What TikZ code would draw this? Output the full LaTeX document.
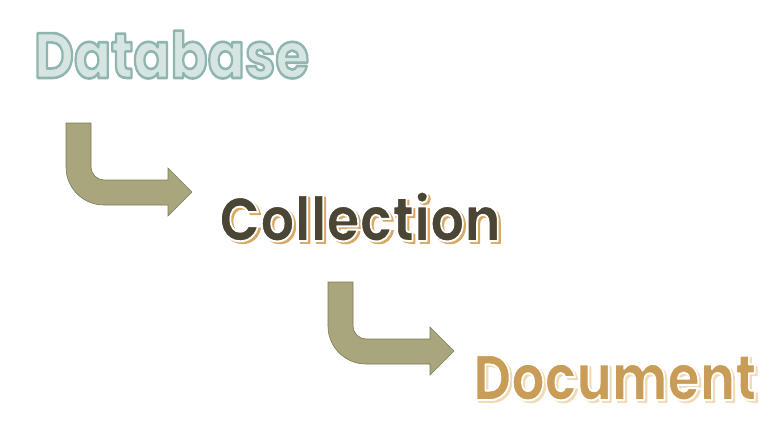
\documentclass[tikz,border=0pt]{standalone}
\usepackage{fontspec}
\newfontfamily\wordfont{Poppins}
\usetikzlibrary{calc}
\definecolor{arrowfill}{HTML}{A9A67E}
\definecolor{arrowline}{HTML}{7D7A56}
\definecolor{dbfill}{HTML}{D6E4E2}
\definecolor{collfill}{HTML}{4B4535}
\definecolor{collshadow}{HTML}{D9A863}
\definecolor{docfill}{HTML}{C99D58}
\definecolor{docshadow}{HTML}{F0DBB5}
% fill and stroke the glyphs: width, stroke colour (rgb), text
\newcommand{\strokedword}[3]{%
  \special{pdf:literal direct q 2 Tr 1 j #1 w #2 RG}#3\special{pdf:literal direct Q}}
\tikzset{
  word/.style={anchor=base west,inner sep=0pt,
    font=\wordfont\bfseries\fontsize{#1}{#1}\selectfont},
  word/.default=64,
  bent arrow/.pic={
    \draw[fill=arrowfill,draw=arrowline,line width=0.6pt]
      (0,0) -- (25,0) -- (25,44) .. controls (25,51) and (31,57) .. (38,57)
      -- (102,57) -- (102,45) -- (126,69) -- (102,93) -- (102,82) -- (38,82)
      .. controls (17,82) and (0,65) .. (0,44) -- cycle;
  }
}
\begin{document}
\begin{tikzpicture}[x=1pt,y=-1pt]
    \useasboundingbox[fill=white] (0,0) rectangle (780,432);
    \coordinate (dbpos) at (34,78);
    \coordinate (collpos) at (219,241);
    \coordinate (docpos) at (473,400);
    % Database
    \node[word,text=dbfill] (db) at (dbpos)
        {\strokedword{2.6}{0.56 0.71 0.69}{\scalebox{0.855}[1]{Database}}};
    % Collection
    \node[word=62,text=collshadow] at ($(collpos)+(2.5,2.2)$)
        {\strokedword{1.2}{0.85 0.66 0.39}{\scalebox{0.87}[1]{Collection}}};
    \node[word=62,text=collfill] (coll) at (collpos)
        {\strokedword{2}{1 1 1}{\scalebox{0.87}[1]{Collection}}};
    % Document
    \node[word,text=docshadow] at ($(docpos)+(2.5,2.2)$)
        {\strokedword{1.2}{0.94 0.86 0.71}{\scalebox{0.82}[1]{Document}}};
    \node[word,text=docfill] (doc) at (docpos)
        {\strokedword{2}{1 1 1}{\scalebox{0.82}[1]{Document}}};
    % arrows
    \pic at (66,123) {bent arrow};
    \pic at (328,282) {bent arrow};
\end{tikzpicture}
\end{document}
